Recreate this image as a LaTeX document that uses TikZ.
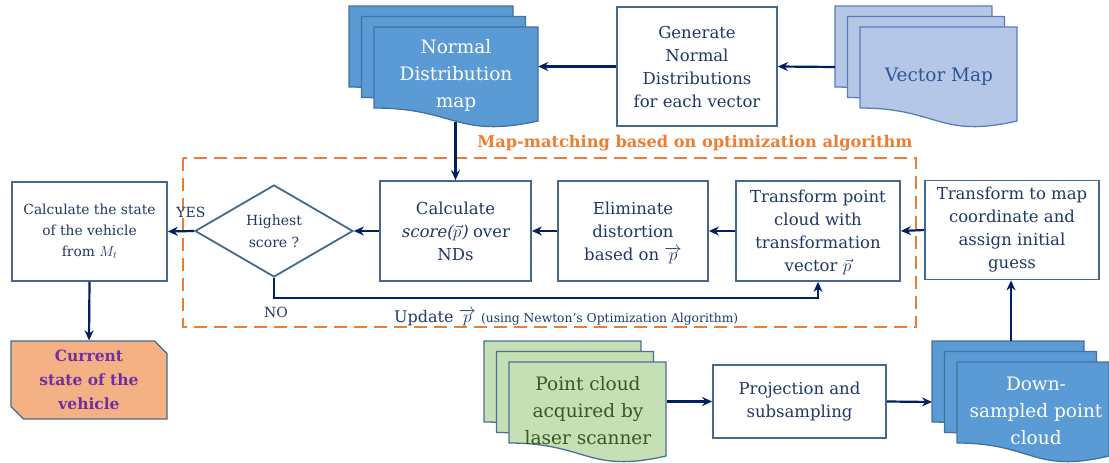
\documentclass[tikz,border=0pt]{standalone}
\usepackage{fontspec}
\setmainfont{DejaVu Serif}
\newfontface\slantserif{DejaVu Serif}[FakeSlant=0.2]
\usetikzlibrary{shapes.geometric, shapes.misc, arrows.meta, calc}

\definecolor{boxline}{HTML}{44698F}
\definecolor{boxtext}{HTML}{1F3864}
\definecolor{navy}{HTML}{002060}
\definecolor{mmorange}{HTML}{ED7D31}
\definecolor{ndfill}{HTML}{5B9BD5}
\definecolor{ndline}{HTML}{41719C}
\definecolor{vmfill}{HTML}{B4C7E7}
\definecolor{vmline}{HTML}{5B7DB5}
\definecolor{vmtext}{HTML}{2F5597}
\definecolor{pcfill}{HTML}{C5E0B4}
\definecolor{pcline}{HTML}{4C6F95}
\definecolor{pctext}{HTML}{385723}
\definecolor{curfill}{HTML}{F4B183}
\definecolor{curtext}{HTML}{7030A0}

\tikzstyle{arrow} = [line width=2.2pt,->,>={Stealth[length=10pt,width=9pt]},draw=navy]
\tikzstyle{box} = [draw=boxline, line width=1.8pt, fill=white, text=boxtext, align=center, inner sep=2pt, font=\fontsize{16.5}{23}\selectfont]
\tikzstyle{doctext} = [align=center, inner sep=0pt, font=\fontsize{18.5}{27}\selectfont]

% stack of three sheets: left, top, width, fill, line
\newcommand{\docstack}[5]{%
  \foreach \i in {2,1,0}{
    \begin{scope}[shift={(-12.5*\i,-10.5*\i)}]
      \filldraw[fill=#4, draw=#5, line width=1.3pt] (#1,#2) -- ({#1+#3},#2) -- ({#1+#3},{#2+94})
        .. controls ({#1+#3/2},{#2+112}) and ({#1+#3/2},{#2+81}) .. (#1,{#2+81}) -- cycle;
    \end{scope}
  }}

\begin{document}
\begin{tikzpicture}[x=1pt, y=-1pt]
    \useasboundingbox (0,0) rectangle (1109,463);

    % map-matching frame
    \draw[mmorange, line width=2pt, dash pattern=on 13pt off 7pt] (183,158) rectangle (916,327);
    \node at (695,143) [text=mmorange, font=\bfseries\fontsize{16.2}{18}\selectfont] (mmtitle) {Map-matching based on optimization algorithm};

    % document stacks
    \docstack{374}{27}{164}{ndfill}{ndline}
    \docstack{860}{27}{157}{vmfill}{vmline}
    \docstack{509}{362}{157}{pcfill}{pcline}
    \docstack{957}{362}{152}{ndfill}{ndline}

    \node at (456,75) [doctext, text=white, minimum width=164pt, minimum height=94pt] (ndmap) {Normal\\Distribution\\map};
    \node at (939,77) [doctext, text=vmtext, minimum width=157pt] (vmap) {Vector Map};
    \node at (588,411) [doctext, text=pctext, minimum width=157pt] (pcloud) {Point cloud\\acquired by\\laser scanner};
    \node at (1036,411) [doctext, text=white, minimum width=152pt] (dsample) {Down-\\sampled point\\cloud};
    \coordinate (vmapback) at (835,67);
    \coordinate (dsback) at (932,402);
    \coordinate (dstop) at (1011,341);

    % process boxes
    \node at (697,66.5) [box, minimum width=160pt, minimum height=119pt] (gen) {Generate\\Normal\\Distributions\\for each vector};
    \node at (455.5,231) [box, minimum width=151pt, minimum height=100pt] (calc) {Calculate\\{\slantserif score(}\smash{$\vec{p}$}{\slantserif)} over\\NDs};
    \node at (633,231) [box, minimum width=150pt, minimum height=100pt] (elim) {Eliminate\\distortion\\based on \smash{$\overrightarrow{p}$}};
    \node at (818,231) [box, minimum width=164pt, minimum height=100pt] (tpc) {Transform point\\cloud with\\transformation\\vector \smash{$\vec{p}$}};
    \node at (1012,230) [box, minimum width=174pt, minimum height=99pt] (tmap) {Transform to map\\coordinate and\\assign initial\\guess};
    \node at (799.5,401.5) [box, minimum width=173pt, minimum height=73pt] (proj) {Projection and\\subsampling};
    \node at (89.5,231.5) [box, minimum width=155pt, minimum height=99pt, font=\fontsize{13.8}{21}\selectfont] (state) {Calculate the state\\of the vehicle\\from $M_t$};
    \node at (274,231) [diamond, draw=boxline, line width=1.8pt, fill=white, text=boxtext, align=center, inner sep=0pt, minimum width=158pt, minimum height=92pt, font=\fontsize{14}{22}\selectfont] (best) {Highest\\score ?};
    \node at (89,380) [chamfered rectangle, chamfered rectangle corners={north east, south west}, chamfered rectangle xsep=9pt, draw=boxline, line width=1.3pt, fill=curfill, text=curtext, align=center, minimum width=156pt, minimum height=78pt, inner sep=0pt, font=\bfseries\fontsize{15.5}{24}\selectfont] (cur) {Current\\state of the\\vehicle};

    % labels
    \node at (191,212) [text=boxtext, font=\fontsize{14}{16}\selectfont] (yes) {YES};
    \node at (276,312) [text=boxtext, font=\fontsize{14}{16}\selectfont] (no) {NO};
    \node at (394,318) [anchor=west, text=boxtext, font=\fontsize{16}{18}\selectfont, inner sep=0pt] (upd) {Update \smash{$\overrightarrow{p}$} {\fontsize{12.3}{13}\selectfont(using Newton's Optimization Algorithm)}};

    % connectors
    \draw[arrow] (vmapback) -- (gen.east);
    \draw[arrow] (gen.west) -- (gen.west -| ndmap.east);
    \draw[arrow] (calc.north |- ndmap.south) -- (calc.north);
    \draw[arrow] (proj.west -| pcloud.east) -- (proj.west);
    \draw[arrow] (proj.east) -- (dsback);
    \draw[arrow] (dstop) -- (dstop |- tmap.south);
    \draw[arrow] (tmap.west) -- (tpc.east);
    \draw[arrow] (tpc.west) -- (elim.east);
    \draw[arrow] (elim.west) -- (calc.east);
    \draw[arrow] (calc.west) -- (best.east);
    \draw[arrow] (best.west) -- (state.east);
    \draw[arrow] (best.south) -- ++(0,20) -| (tpc.south);
    \draw[arrow] (state.south) -- (cur.north);

\end{tikzpicture}
\end{document}
